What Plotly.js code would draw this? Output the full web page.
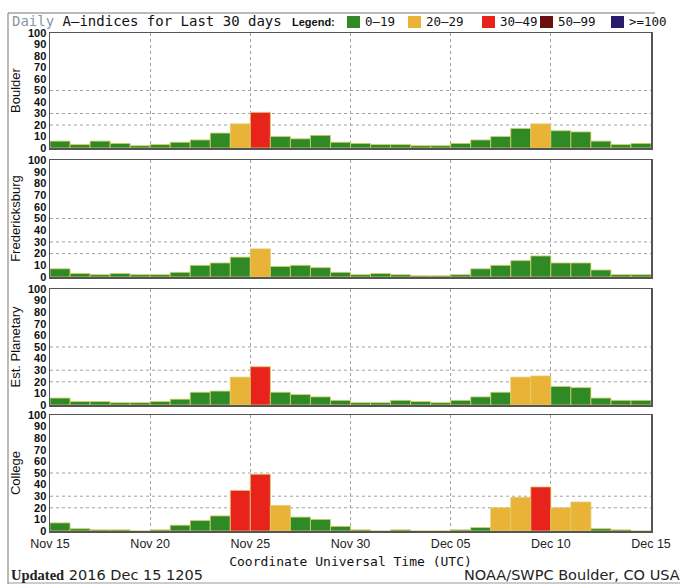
<!DOCTYPE html>
<html>
<head>
<meta charset="utf-8">
<script src="https://cdn.plot.ly/plotly-3.0.1.min.js"></script>
<style>html,body{margin:0;padding:0;background:#fff;}#chart{width:680px;height:584px;}</style>
</head>
<body>
<div id="chart"></div>
<script>
// ---- data ----
const days = [
  '2016-11-15','2016-11-16','2016-11-17','2016-11-18','2016-11-19',
  '2016-11-20','2016-11-21','2016-11-22','2016-11-23','2016-11-24',
  '2016-11-25','2016-11-26','2016-11-27','2016-11-28','2016-11-29',
  '2016-11-30','2016-12-01','2016-12-02','2016-12-03','2016-12-04',
  '2016-12-05','2016-12-06','2016-12-07','2016-12-08','2016-12-09',
  '2016-12-10','2016-12-11','2016-12-12','2016-12-13','2016-12-14'
];
const boulder = [6,3,6,4,2,3,5,7,13,21,31,10,8,11,5,4,3,3,2,2,4,7,10,17,21,15,14,6,3,4];
const fredericksburg = [7,3,2,3,2,2,4,10,12,17,24,9,10,8,4,2,3,2,1,1,2,7,10,14,18,12,12,6,2,2];
const planetary = [6,3,3,2,2,3,5,11,12,24,33,11,9,7,4,2,2,4,3,2,4,7,11,24,25,16,15,6,4,4];
const college = [7,2,1,1,0,1,5,9,13,35,49,22,12,10,4,1,0,1,0,0,1,3,20,29,38,20,25,2,1,0];
const stations = ['Boulder','Fredericksburg','Est. Planetary','College'];
const legendLabels = ['0\u201319','20\u201329','30\u201349','50\u201399','>=100'];
const yTicks = [0,10,20,30,40,50,60,70,80,90,100];
const refLevels = [20,30,50];

// ---- styles ----
const classColors = ['#2f8a26','#e8b336','#e8231b','#6b1010','#2a1c6c'];
function colorFor(v){
  if (v >= 100) return classColors[4];
  if (v >= 50) return classColors[3];
  if (v >= 30) return classColors[2];
  if (v >= 20) return classColors[1];
  return classColors[0];
}
const L = 50, R = 651, T = 33, B = 531;
const px = x => (x - L) / (R - L);
const py = y => (B - y) / (B - T);
const domains = [[py(148), py(33)], [py(277), py(160)], [py(405), py(289)], [py(531), py(415)]];

const series = [boulder, fredericksburg, planetary, college];
const DAY = 86400000;
const traces = series.map((vals, i) => ({
  type: 'bar',
  x: days,
  y: vals,
  xaxis: 'x',
  yaxis: i === 0 ? 'y' : 'y' + (i + 1),
  width: DAY,
  offset: 0,
  marker: {color: vals.map(colorFor), line: {color: '#d9cf6a', width: 0.8}},
  hoverinfo: 'x+y',
  showlegend: false
}));

const layout = {
  width: 680, height: 584,
  margin: {l: L, r: 680 - R, t: T, b: 584 - B, pad: 0},
  paper_bgcolor: '#fff', plot_bgcolor: '#fff',
  bargap: 0,
  font: {family: 'Liberation Sans, Arial, sans-serif', color: '#111'},
  xaxis: {
    type: 'date', anchor: 'y4',
    range: ['2016-11-15', '2016-12-15'],
    tick0: '2016-11-15', dtick: 5 * DAY, tickformat: '%b %d',
    showgrid: true, gridcolor: '#a0a0a0', griddash: 'dot', gridwidth: 1,
    showline: true, linecolor: '#555', linewidth: 1.5, mirror: 'all',
    ticks: '', tickfont: {size: 12.5, color: '#222'},
    title: {text: 'Coordinate Universal Time (UTC)', font: {family: 'DejaVu Sans Mono, monospace', size: 13, color: '#111'}, standoff: 7},
    zeroline: false
  },
  shapes: [],
  annotations: []
};

stations.forEach((name, i) => {
  const key = i === 0 ? 'yaxis' : 'yaxis' + (i + 1);
  layout[key] = {
    domain: domains[i], anchor: 'x', range: [0, 100],
    tickvals: yTicks, ticks: '', showgrid: false, zeroline: false,
    showline: true, linecolor: '#555', linewidth: 1.5, mirror: true,
    tickfont: {size: 11, color: '#111', weight: 600},
    title: {text: name, font: {size: 13, color: '#111'}, standoff: 4}
  };
  const yref = i === 0 ? 'y' : 'y' + (i + 1);
  refLevels.forEach(lv => {
    layout.shapes.push({type: 'line', xref: 'paper', x0: 0, x1: 1, yref: yref, y0: lv, y1: lv,
      line: {color: '#a0a0a0', width: 1, dash: 'dot'}, layer: 'below'});
  });
});

// outer frame lines
layout.shapes.push({type: 'line', xref: 'paper', yref: 'paper', x0: px(8), x1: px(8), y0: py(584), y1: py(13),
  line: {color: '#777', width: 1}});
layout.shapes.push({type: 'line', xref: 'paper', yref: 'paper', x0: px(8), x1: px(655), y0: py(13), y1: py(13),
  line: {color: '#777', width: 1}});
layout.shapes.push({type: 'line', xref: 'paper', yref: 'paper', x0: px(8), x1: px(680), y0: py(583), y1: py(583),
  line: {color: '#999', width: 1}});

// title
layout.annotations.push({xref: 'paper', yref: 'paper', x: px(10), y: py(21), xanchor: 'left', yanchor: 'middle', showarrow: false,
  text: "<span style='color:#8a96a6'>Daily</span> A\u2013indices for Last 30 days",
  font: {family: 'DejaVu Sans Mono, monospace', size: 14, color: '#111'}});
layout.annotations.push({xref: 'paper', yref: 'paper', x: px(290), y: py(22), xanchor: 'left', yanchor: 'middle', showarrow: false,
  text: '<b>Legend:</b>', font: {family: 'Liberation Sans, sans-serif', size: 11, color: '#111'}});
// legend swatches
const swX = [347, 408, 482, 540, 611];
legendLabels.forEach((lab, k) => {
  layout.shapes.push({type: 'rect', xref: 'paper', yref: 'paper', x0: px(swX[k]), x1: px(swX[k] + 13), y0: py(28), y1: py(16),
    fillcolor: classColors[k], line: {width: 0}});
  layout.annotations.push({xref: 'paper', yref: 'paper', x: px(swX[k] + 16), y: py(22), xanchor: 'left', yanchor: 'middle', showarrow: false,
    text: lab, font: {family: 'DejaVu Sans Mono, monospace', size: 12.5, color: '#111'}});
});

// footer
layout.annotations.push({xref: 'paper', yref: 'paper', x: px(9), y: py(575), xanchor: 'left', yanchor: 'middle', showarrow: false,
  text: "<b><span style='font-family:Liberation Serif, serif'>Updated</span></b> 2016 Dec 15 1205",
  font: {family: 'DejaVu Sans, sans-serif', size: 14.5, color: '#222'}});
layout.annotations.push({xref: 'paper', yref: 'paper', x: px(462), y: py(575), xanchor: 'left', yanchor: 'middle', showarrow: false,
  text: 'NOAA/SWPC Boulder, CO USA',
  font: {family: 'DejaVu Sans, sans-serif', size: 14.5, color: '#222'}});

Plotly.newPlot('chart', traces, layout, {displayModeBar: false, staticPlot: true});
</script>
</body>
</html>
